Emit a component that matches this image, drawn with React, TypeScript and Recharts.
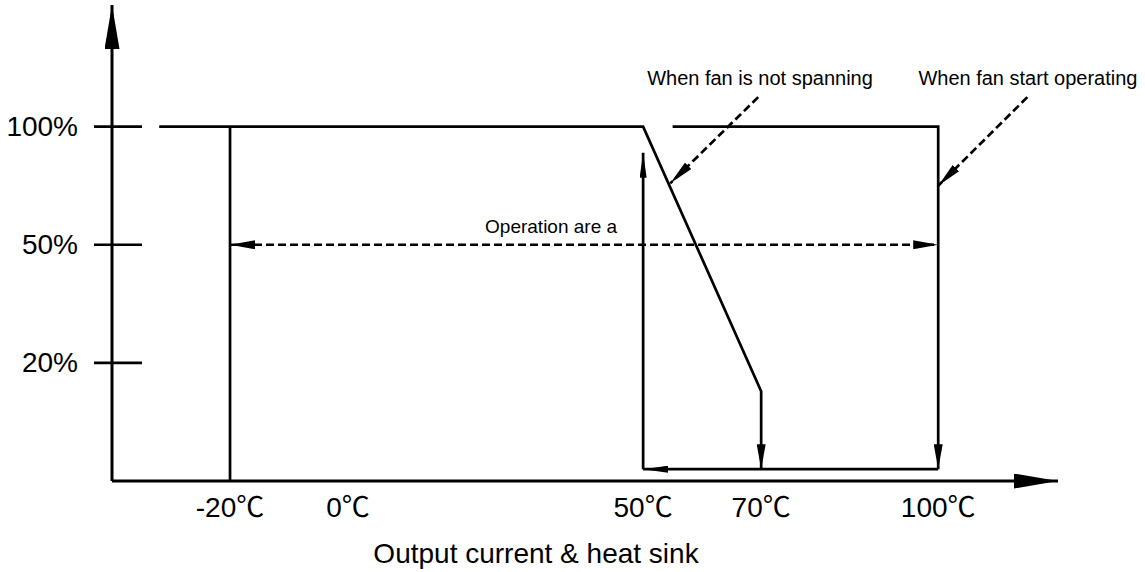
import React from 'react';
import { ComposedChart, Line, XAxis, YAxis, ReferenceDot, Label } from 'recharts';

// x = heat sink temperature (°C), y = step on the load scale (1 = 20%, 2 = 50%, 3 = 100%)
const tempTicks = [-20, 0, 50, 70, 100];
const levelTicks = [1, 2, 3];
const levelLabels = ['20%', '50%', '100%'];

const xAxisLine = [{ x: -40, y: 0 }, { x: 120.3, y: 0 }];
const yAxisLine = [{ x: -40, y: 0 }, { x: -40, y: 4.03 }];
const noFanCurve = [{ x: -32, y: 3 }, { x: 50, y: 3 }, { x: 70, y: 0.76 }, { x: 70, y: 0.1 }];
const fanCurve = [{ x: 55, y: 3 }, { x: 100, y: 3 }, { x: 100, y: 0.1 }];
const coldLimit = [{ x: -20, y: 3 }, { x: -20, y: 0 }];
const returnLine = [{ x: 100, y: 0.1 }, { x: 50, y: 0.1 }];
const riseLine = [{ x: 50, y: 0.1 }, { x: 50, y: 2.78 }];
const operatingRange = [{ x: -20, y: 2 }, { x: 100, y: 2 }];
const noFanPointer = [{ x: 69.5, y: 3.25 }, { x: 54.6, y: 2.52 }];
const fanPointer = [{ x: 115.1, y: 3.25 }, { x: 100, y: 2.5 }];

const notes = [
  { x: 34.4, y: 2.155, text: 'Operation are a', size: 19 },
  { x: 69.8, y: 3.41, text: 'When fan is not spanning', size: 20 },
  { x: 115.2, y: 3.41, text: 'When fan start operating', size: 20 },
];

const FONT = "'Liberation Sans', Arial, 'Noto Sans CJK JP', sans-serif";
const CJK = "'Noto Sans CJK JP', 'Noto Sans CJK SC', sans-serif";

const YTick = (props: any) => {
  const { x, y, payload } = props;
  return (
    <g>
      <line x1={x - 18} x2={x + 30} y1={y} y2={y} stroke="#000" strokeWidth={2.7} />
      <text x={x - 34} y={y} textAnchor="end" dominantBaseline="central" fontSize={28} fontFamily={FONT} fill="#000">
        {levelLabels[levelTicks.indexOf(payload.value)]}
      </text>
    </g>
  );
};

const XTick = (props: any) => {
  const { x, y, payload } = props;
  return (
    <text x={x} y={y + 36} textAnchor="middle" fontSize={28} fontFamily={FONT} fill="#000">
      {payload.value}
      <tspan fontFamily={CJK}>℃</tspan>
    </text>
  );
};

const line = (data: any[], key: string, opts: any = {}) => (
  <Line
    key={key}
    data={data}
    dataKey="y"
    type="linear"
    stroke="#000"
    strokeWidth={2.7}
    dot={false}
    activeDot={false}
    isAnimationActive={false}
    {...opts}
  />
);

const App = () => {
  return (
    <div style={{ position: 'absolute', left: 0, top: 0, background: '#fff' }}>
      <ComposedChart width={1145} height={572} margin={{ top: 5, right: 87, bottom: 0, left: 0 }}>
        <defs>
          <marker id="bigArrow" viewBox="0 0 44 15" refX={44} refY={7.5} markerWidth={44} markerHeight={15}
            markerUnits="userSpaceOnUse" orient="auto-start-reverse">
            <path d="M0,0 L44,7.5 L0,15 z" fill="#000" />
          </marker>
          <marker id="arrow" viewBox="0 0 25 9" refX={25} refY={4.5} markerWidth={25} markerHeight={9}
            markerUnits="userSpaceOnUse" orient="auto-start-reverse">
            <path d="M0,0 L25,4.5 L0,9 z" fill="#000" />
          </marker>
          <marker id="thinArrow" viewBox="0 0 25 7" refX={25} refY={3.5} markerWidth={25} markerHeight={7}
            markerUnits="userSpaceOnUse" orient="auto-start-reverse">
            <path d="M0,0 L25,3.5 L0,7 z" fill="#000" />
          </marker>
        </defs>
        <XAxis
          type="number"
          dataKey="x"
          domain={[-40, 120.3]}
          ticks={tempTicks}
          height={91}
          axisLine={false}
          tickLine={false}
          tickSize={0}
          tickMargin={0}
          tick={(p: any) => <XTick {...p} />}
          allowDuplicatedCategory={false}
        >
          <Label value="Output current & heat sink" position="insideBottom" offset={9} dx={-49}
            fontSize={28} fontFamily={FONT} fill="#000" />
        </XAxis>
        <YAxis
          type="number"
          domain={[0, 4.03]}
          ticks={levelTicks}
          width={112}
          axisLine={false}
          tickLine={false}
          tickSize={0}
          tickMargin={0}
          tick={(p: any) => <YTick {...p} />}
        />
        {line(xAxisLine, 'xaxis', { markerEnd: 'url(#bigArrow)', strokeWidth: 3 })}
        {line(yAxisLine, 'yaxis', { markerEnd: 'url(#bigArrow)', strokeWidth: 3 })}
        {line(coldLimit, 'cold')}
        {line(noFanCurve, 'nofan', { markerEnd: 'url(#arrow)' })}
        {line(fanCurve, 'fan', { markerEnd: 'url(#arrow)' })}
        {line(returnLine, 'return', { markerEnd: 'url(#thinArrow)' })}
        {line(riseLine, 'rise', { markerEnd: 'url(#thinArrow)' })}
        {line(operatingRange, 'range', { strokeDasharray: '8 4', markerStart: 'url(#arrow)', markerEnd: 'url(#arrow)' })}
        {line(noFanPointer, 'ptr1', { strokeDasharray: '8 4', markerEnd: 'url(#arrow)' })}
        {line(fanPointer, 'ptr2', { strokeDasharray: '8 4', markerEnd: 'url(#arrow)' })}
        {notes.map((n) => (
          <ReferenceDot
            key={n.text}
            x={n.x}
            y={n.y}
            r={0}
            fill="none"
            stroke="none"
            label={{ value: n.text, position: 'center', fontSize: n.size, fontFamily: FONT, fill: '#000' }}
          />
        ))}
      </ComposedChart>
    </div>
  );
};

export default App;
